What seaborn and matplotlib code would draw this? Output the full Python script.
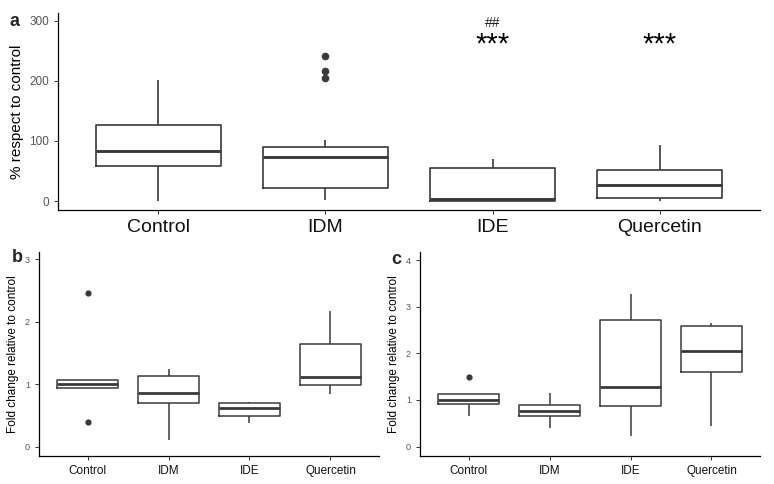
import numpy as np
import pandas as pd
import seaborn as sns
import matplotlib.pyplot as plt

groups = ["Control", "IDM", "IDE", "Quercetin"]

# panel a: % respect to control (whisker low, Q1, median, Q3, whisker high)
a_low = [0, 1, 0, 0.5]
a_q1 = [59, 22, 0.5, 5.5]
a_med = [83, 73, 4, 26]
a_q3 = [127, 90, 55, 51]
a_high = [202, 102, 70, 94]
a_out_group = ["IDM", "IDM", "IDM"]
a_out_val = [241, 216, 205]
a_marks_group = ["IDE", "Quercetin"]
a_stars = ["***", "***"]
a_hash_group = ["IDE"]
a_hash = ["##"]

# panel b: fold change
b_low = [0.94, 0.10, 0.375, 0.845]
b_q1 = [0.94, 0.70, 0.49, 0.99]
b_med = [1.00, 0.86, 0.625, 1.12]
b_q3 = [1.06, 1.13, 0.695, 1.645]
b_high = [1.06, 1.245, 0.71, 2.175]
b_out_group = ["Control", "Control"]
b_out_val = [2.46, 0.40]

# panel c: fold change
c_low = [0.66, 0.39, 0.236, 0.44]
c_q1 = [0.91, 0.657, 0.88, 1.61]
c_med = [0.99, 0.77, 1.27, 2.06]
c_q3 = [1.13, 0.886, 2.71, 2.58]
c_high = [1.13, 1.16, 3.27, 2.64]
c_out_group = ["Control"]
c_out_val = [1.5]


def five_number_frame(low, q1, med, q3, high):
    rows = []
    for i, g in enumerate(groups):
        for v in (low[i], q1[i], med[i], q3[i], high[i]):
            rows.append((g, v))
    return pd.DataFrame(rows, columns=["group", "value"])


sns.set_theme(style="ticks")
plt.rcParams["font.family"] = ["Liberation Sans", "DejaVu Sans"]

fig = plt.figure(figsize=(7.74, 4.84), dpi=100)
ax_a = fig.add_axes([0.0749, 0.566, 0.907, 0.407])
ax_b = fig.add_axes([0.0504, 0.058, 0.4393, 0.422])
ax_c = fig.add_axes([0.5426, 0.057, 0.4394, 0.423])

line_col = "#3a3a3a"


def draw_panel(ax, df, out_group, out_val, ylim, yticks, ylabel, xsize, ysize, labsize, lw, mlw, msize):
    sns.boxplot(data=df, x="group", y="value", order=groups, ax=ax, fill=False,
                color=line_col, width=0.75, whis=(0, 100), showfliers=False, showcaps=False,
                linewidth=lw, medianprops={"linewidth": mlw, "color": line_col})
    pts = pd.DataFrame({"group": out_group, "value": out_val})
    sns.stripplot(data=pts, x="group", y="value", order=groups, ax=ax, jitter=False,
                  color=line_col, size=msize, linewidth=0)
    ax.set_xlim(-0.6, 3.6)
    ax.set_ylim(*ylim)
    ax.set_yticks(yticks)
    ax.set_xlabel("")
    ax.set_ylabel(ylabel, fontsize=labsize, color="black")
    ax.tick_params(axis="x", labelsize=xsize, labelcolor="#111111", length=3, width=0.7, color="#333333")
    ax.tick_params(axis="y", labelsize=ysize, labelcolor="#555555", length=3, width=0.7, color="#333333")
    for s in ("left", "bottom"):
        ax.spines[s].set_linewidth(0.9)
        ax.spines[s].set_color("black")
    sns.despine(ax=ax)


draw_panel(ax_a, five_number_frame(a_low, a_q1, a_med, a_q3, a_high), a_out_group, a_out_val,
           (-15, 313), [0, 100, 200, 300], "% respect to control", 14, 8.5, 11, 1.2, 2.1, 5.5)
draw_panel(ax_b, five_number_frame(b_low, b_q1, b_med, b_q3, b_high), b_out_group, b_out_val,
           (-0.15, 3.12), [0, 1, 2, 3], "Fold change relative to control", 8.5, 6.5, 8.5, 1.1, 2.0, 4.5)
draw_panel(ax_c, five_number_frame(c_low, c_q1, c_med, c_q3, c_high), c_out_group, c_out_val,
           (-0.21, 4.18), [0, 1, 2, 3, 4], "Fold change relative to control", 8.5, 6.5, 8.5, 1.1, 2.0, 4.5)

for g, s in zip(a_marks_group, a_stars):
    ax_a.text(groups.index(g), 248, s, ha="center", va="baseline", fontsize=21, color="black")
for g, s in zip(a_hash_group, a_hash):
    ax_a.text(groups.index(g), 290, s, ha="center", va="baseline", fontsize=10, color="#222222")

fig.text(15 / 774, 1 - 22 / 484, "a", fontsize=13, fontweight="bold", ha="center", va="center")
fig.text(17 / 774, 1 - 258 / 484, "b", fontsize=13, fontweight="bold", ha="center", va="center")
fig.text(396 / 774, 1 - 259 / 484, "c", fontsize=13, fontweight="bold", ha="center", va="center")

fig.savefig("out.png", dpi=100, facecolor="white")
